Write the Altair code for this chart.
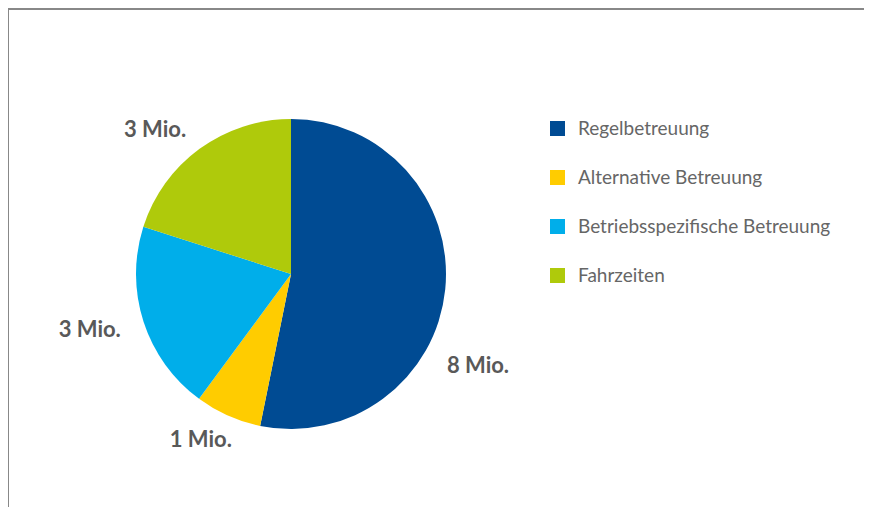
import altair as alt
import pandas as pd

categories = ["Regelbetreuung", "Alternative Betreuung", "Betriebsspezifische Betreuung", "Fahrzeiten"]
values = [8.0, 1.04, 2.98, 3.02]
labels = ["8 Mio.", "1 Mio.", "3 Mio.", "3 Mio."]
colors = ["#004B93", "#FFCC00", "#00AEEA", "#AFCA0B"]

df = pd.DataFrame({"cat": categories, "value": values, "label": labels, "idx": list(range(len(categories)))})
total = float(sum(values))

pie = alt.Chart(df).mark_arc(outerRadius=155, stroke=None).encode(
    theta=alt.Theta("value:Q", stack=True, scale=alt.Scale(domain=[0, total])),
    order=alt.Order("idx:Q"),
    x=alt.value(283),
    y=alt.value(266),
    color=alt.Color(
        "cat:N",
        scale=alt.Scale(domain=categories, range=colors),
        sort=categories,
        legend=alt.Legend(
            title=None,
            orient="none",
            legendX=540,
            legendY=111,
            symbolType="square",
            symbolSize=225,
            symbolStrokeWidth=0,
            labelFontSize=19,
            labelFont="Lato",
            labelColor="#666666",
            labelOffset=11,
            rowPadding=29,
            padding=0,
            labelLimit=400,
        ),
    ),
)

offsets = {
    "Regelbetreuung": (-12, 72),
    "Alternative Betreuung": (-9, -17),
    "Betriebsspezifische Betreuung": (-11, -6),
    "Fahrzeiten": (-18, 18),
}

text_layers = []
for c in categories:
    dx, dy = offsets[c]
    t = alt.Chart(df).transform_window(
        cum="sum(value)", sort=[alt.SortField("idx")], frame=[None, 0]
    ).transform_calculate(
        mid="datum.cum - datum.value / 2"
    ).transform_filter(
        alt.datum.cat == c
    ).mark_text(
        radius=200, fontSize=22, fontWeight="bold", font="Lato", color="#595959",
        dx=dx, dy=dy, align="center", baseline="middle",
    ).encode(
        theta=alt.Theta("mid:Q", stack=False, scale=alt.Scale(domain=[0, total])),
        x=alt.value(283),
        y=alt.value(266),
        text="label:N",
    )
    text_layers.append(t)

frame_top = alt.Chart(df).mark_rule(color="#888888", strokeWidth=2).encode(
    x=alt.value(0), x2=alt.value(870), y=alt.value(1)
)
frame_left = alt.Chart(df).mark_rule(color="#888888", strokeWidth=2).encode(
    x=alt.value(0), y=alt.value(0), y2=alt.value(520)
)

chart = alt.layer(frame_top, frame_left, pie, *text_layers).properties(
    width=856, height=499, padding=0, autosize="none"
).configure_view(stroke=None)

chart.save("out.html", embed_options={"renderer": "svg", "actions": False})
